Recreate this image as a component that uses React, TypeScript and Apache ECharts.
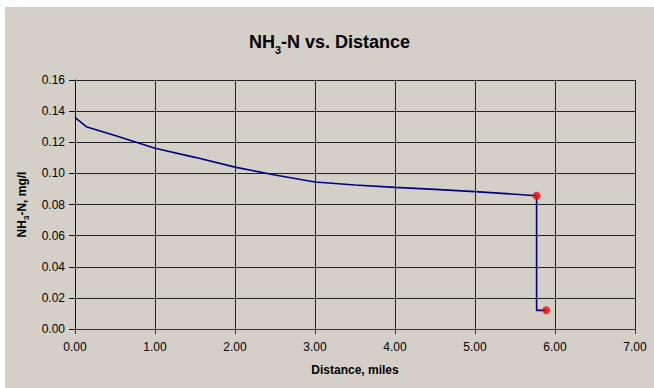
import React, { useEffect, useRef } from "react";
import * as echarts from "echarts";

// Distance (miles) and NH3-N (mg/l) along the stream profile
const distance = [0, 0.14, 0.5, 1.0, 1.5, 2.0, 2.5, 3.0, 3.5, 4.0, 4.5, 5.0, 5.5, 5.77, 5.77, 5.89];
const nh3 = [0.136, 0.130, 0.1243, 0.1162, 0.1103, 0.104, 0.099, 0.0945, 0.0925, 0.091, 0.0897, 0.0883, 0.0866, 0.0856, 0.012, 0.012];
// indices of points shown with a red marker
const markedIdx = [13, 15];

const xTicks = [0, 1, 2, 3, 4, 5, 6, 7];
const yTicks = [0, 0.02, 0.04, 0.06, 0.08, 0.1, 0.12, 0.14, 0.16];

const FONT = "'Liberation Sans', Arial, sans-serif";

export default function App() {
  const ref = useRef<HTMLDivElement>(null);
  useEffect(() => {
    if (!ref.current) return;
    const chart = echarts.init(ref.current, undefined, { renderer: "svg" });
    const lineData = distance.map((d, i) => [d, nh3[i]]);
    const markData = markedIdx.map((i) => [distance[i], nh3[i]]);
    chart.setOption({
      animation: false,
      backgroundColor: "transparent",
      textStyle: { fontFamily: FONT },
      title: {
        text: "{a|NH}{s|3}{a|-N vs. Distance}",
        left: "center",
        top: 19,
        textStyle: {
          rich: {
            a: { fontFamily: FONT, fontSize: 18, fontWeight: "bold", color: "#000", lineHeight: 22 },
            s: { fontFamily: FONT, fontSize: 11, fontWeight: "bold", color: "#000", lineHeight: 22, verticalAlign: "bottom", padding: [0, 0, -2, 0] },
          },
        },
      },
      grid: { left: 70, right: 19, top: 73, bottom: 59, containLabel: false },
      xAxis: {
        type: "value",
        min: xTicks[0],
        max: xTicks[xTicks.length - 1],
        interval: 1,
        name: "Distance, miles",
        nameLocation: "middle",
        nameGap: 35,
        nameTextStyle: { fontFamily: FONT, fontSize: 12, fontWeight: "bold", color: "#000" },
        axisLine: { show: true, lineStyle: { color: "#333", width: 1 } },
        axisTick: { show: true, length: 5, inside: false, lineStyle: { color: "#333" } },
        axisLabel: { fontFamily: FONT, fontSize: 12, color: "#000", margin: 12, formatter: (v: number) => v.toFixed(2) },
        splitLine: { show: true, lineStyle: { color: "#222", width: 1 } },
      },
      yAxis: {
        type: "value",
        min: yTicks[0],
        max: yTicks[yTicks.length - 1],
        interval: 0.02,
        name: "{a|NH}{s|3}{a|-N, mg/l}",
        nameLocation: "middle",
        nameGap: 43,
        nameTextStyle: {
          rich: {
            a: { fontFamily: FONT, fontSize: 12, fontWeight: "bold", color: "#000", lineHeight: 16 },
            s: { fontFamily: FONT, fontSize: 8, fontWeight: "bold", color: "#000", lineHeight: 16, verticalAlign: "bottom", padding: [0, 0, -1, 0] },
          },
        },
        axisLine: { show: true, lineStyle: { color: "#111", width: 1 } },
        axisTick: { show: true, length: 6, inside: false, lineStyle: { color: "#111" } },
        axisLabel: { fontFamily: FONT, fontSize: 12, color: "#000", margin: 10, formatter: (v: number) => v.toFixed(2) },
        splitLine: { show: true, lineStyle: { color: "#222", width: 1 } },
      },
      series: [
        {
          type: "line",
          data: lineData,
          showSymbol: false,
          symbol: "none",
          lineStyle: { color: "#000080", width: 1.6 },
          z: 2,
        },
        {
          type: "scatter",
          data: markData,
          symbol: "circle",
          symbolSize: 8,
          itemStyle: { color: "#FF0000" },
          z: 3,
        },
      ],
    });
    return () => chart.dispose();
  }, []);
  return (
    <div style={{ position: "absolute", left: 0, top: 0, width: 654, height: 388, background: "#fff" }}>
      <div
        ref={ref}
        style={{ position: "absolute", left: 5, top: 7, width: 649, height: 381, background: "#D4D0C8" }}
      />
    </div>
  );
}
